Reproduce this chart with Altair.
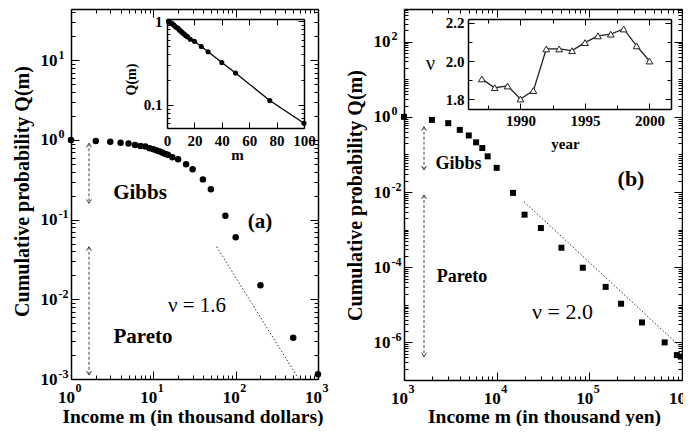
import json
import altair as alt
import pandas as pd

FONT = "Liberation Serif"
W, H = 675, 418

# ---------------- data ----------------
# (a) income distribution, thousand dollars
A_M = [1, 2, 3, 4, 5, 6, 7, 8, 9, 10, 11, 12, 13, 14, 15, 17, 20, 25, 30, 40, 50, 75, 100, 200, 500, 1000]
A_Q = [1.0, 0.97, 0.952, 0.925, 0.90, 0.866, 0.841, 0.825, 0.787, 0.765, 0.735, 0.714, 0.69, 0.668,
       0.65, 0.608, 0.574, 0.497, 0.43, 0.32, 0.24, 0.112, 0.06, 0.015, 0.0033, 0.00115]
# (b) income distribution, thousand yen
B_M = [1000, 2000, 3000, 4000, 5000, 6000, 7000, 8000, 10000, 15000, 20000, 30000, 50000, 85000,
       150000, 220000, 370000, 650000, 880000, 970000]
B_Q = [1.0, 0.83, 0.68, 0.45, 0.32, 0.21, 0.148, 0.089, 0.044, 0.0095, 0.0025, 0.0011, 3.3e-4, 9.7e-5,
       3.0e-5, 1.07e-5, 3.4e-6, 1.0e-6, 4.6e-7, 4.2e-7]
# inset (b): Pareto index per year
YEARS = [1987, 1988, 1989, 1990, 1991, 1992, 1993, 1994, 1995, 1996, 1997, 1998, 1999, 2000]
NU = [1.907, 1.861, 1.870, 1.802, 1.846, 2.063, 2.063, 2.054, 2.096, 2.131, 2.140, 2.167, 2.079, 2.000]

# power-law guide lines (end points)
A_FIT_M = [58.8, 576.6]
A_FIT_Q = [0.0457, 0.00102]
B_FIT_M = [19720, 1000000]
B_FIT_Q = [0.00553, 6.97e-7]

# region arrows (Gibbs, Pareto)
A_ARR_M = [1.654, 1.654]
A_ARR_TOP = [0.908, 0.0457]
A_ARR_BOT = [0.160, 0.00112]
B_ARR_M = [1644, 1644]
B_ARR_TOP = [0.547, 0.00834]
B_ARR_BOT = [0.0386, 4.17e-7]

# annotations
A_BOLD_TXT = ["Gibbs", "Pareto", "(a)"]
A_BOLD_M = [6.89, 7.49, 197.5]
A_BOLD_Q = [0.219, 0.00337, 0.0934]
A_NU_TXT = ["ν = 1.6"]
A_NU_M = [33.9]
A_NU_Q = [0.00824]
B_BOLD_TXT = ["Gibbs", "Pareto"]
B_BOLD_M = [3873, 4227]
B_BOLD_Q = [0.055, 5.5e-5]
B_TAG_TXT = ["(b)"]
B_TAG_M = [281600]
B_TAG_Q = [0.0222]
B_NU_TXT = ["ν = 2.0"]
B_NU_M = [51330]
B_NU_Q = [6.25e-6]

# tick values and labels
A_X_TICKS = [1, 10, 100, 1000]
A_X_EXP = ["0", "1", "2", "3"]
A_Y_TICKS = [0.001, 0.01, 0.1, 1, 10]
A_Y_EXP = ["-3", "-2", "-1", "0", "1"]
B_X_TICKS = [1e3, 1e4, 1e5, 1e6]
B_X_EXP = ["3", "4", "5", "6"]
B_Y_TICKS = [1e-6, 1e-4, 1e-2, 1, 100]
B_Y_EXP = ["-6", "-4", "-2", "0", "2"]
IA_X_TICKS = [0, 20, 40, 60, 80, 100]
IA_X_LAB = ["0", "20", "40", "60", "80", "100"]
IA_Y_TICKS = [0.1, 1]
IA_Y_LAB = ["0.1", "1"]
IA_Y_MINOR = [0.06, 0.07, 0.08, 0.09, 0.2, 0.3, 0.4, 0.5, 0.6, 0.7, 0.8, 0.9]
IB_X_TICKS = [1990, 1995, 2000]
IB_X_LAB = ["1990", "1995", "2000"]
IB_X_MINOR = [1987.5, 1992.5, 1997.5]
IB_Y_TICKS = [1.8, 2.0, 2.2]
IB_Y_LAB = ["1.8", "2.0", "2.2"]
IB_Y_MINOR = [1.9, 2.1]


def log_minor(lo, hi, vmin, vmax, extra=()):
    vals = [k * 10.0 ** e for e in range(lo, hi) for k in range(2, 10)] + list(extra)
    return [v for v in vals if vmin < v < vmax]


A_X_MINOR = log_minor(0, 3, 1, 1000)
A_Y_MINOR = log_minor(-3, 2, 0.001, 44)
B_X_MINOR = log_minor(3, 6, 1e3, 1e6)
B_Y_MINOR = log_minor(-7, 3, 1e-7, 740, extra=[1e-5, 1e-3, 1e-1, 10])

# ---------------- scales (pixel ranges inside the canvas) ----------------
sa_x = alt.Scale(type="log", domain=[1, 1000], range=[63, 310], nice=False)
sa_y = alt.Scale(type="log", domain=[1e-3, 44], range=[371, 1], nice=False)
sb_x = alt.Scale(type="log", domain=[1e3, 1e6], range=[396, 674], nice=False)
sb_y = alt.Scale(type="log", domain=[1e-7, 740], range=[372, 1], nice=False)
sia_x = alt.Scale(type="linear", domain=[0, 100], range=[159, 296], nice=False, zero=False)
sia_y = alt.Scale(type="log", domain=[0.0526, 1.063], range=[120, 11], nice=False)
sib_x = alt.Scale(type="linear", domain=[1985.93, 2001.67], range=[460, 663], nice=False, zero=False)
sib_y = alt.Scale(type="linear", domain=[1.750, 2.219], range=[101, 11], nice=False, zero=False)


def lab_expr(ticks, labels):
    return json.dumps(labels) + "[indexof(" + json.dumps(ticks) + ", datum.value)]"


COMMON = dict(grid=False, labelFont=FONT, labelFontWeight="bold", labelColor="black",
              labelFlush=False, labelOverlap=False, titleFont=FONT, titleFontWeight="bold",
              titleColor="black", domainColor="black", tickColor="black")


def label_axis(orient, offset, values, expr, size, pad, align, baseline, shift=0, domain=True, **kw):
    d = dict(COMMON)
    d.update(orient=orient, offset=offset, values=values, labelExpr=expr, labelFontSize=size,
             labelPadding=pad, labelAlign=align, labelBaseline=baseline, labelOffset=shift,
             ticks=False, tickSize=0, domain=domain, domainWidth=1.5)
    if "title" not in kw:
        kw["title"] = None
    else:
        kw.setdefault("titleFontSize", 20)
        kw.setdefault("titleBaseline", "middle")
        kw.setdefault("titleAlign", "center")
    d.update(kw)
    return alt.Axis(**d)


def tick_axis(orient, offset, size, values):
    d = dict(COMMON)
    d.update(orient=orient, offset=offset, values=values, labels=False, domain=False,
             ticks=True, tickSize=size, tickWidth=1, title=None)
    return alt.Axis(**d)


def frame_axis(orient, offset):
    d = dict(COMMON)
    d.update(orient=orient, offset=offset, labels=False, ticks=False, domain=True,
             domainWidth=1.5, title=None)
    return alt.Axis(**d)


def place(chart, xs, ys, xaxis=None, yaxis=None, xf="m", yf="q", **extra):
    return chart.encode(x=alt.X(f"{xf}:Q", scale=xs, axis=xaxis),
                        y=alt.Y(f"{yf}:Q", scale=ys, axis=yaxis), **extra)


def carrier(df):
    return alt.Chart(df).mark_point(opacity=0)


UP = "M-1,1.6L0,0L1,1.6"
DOWN = "M-1,-1.6L0,0L1,-1.6"


def arrows(m, top, bot, xs, ys):
    df = pd.DataFrame({"m": m, "q": top, "q2": bot})
    rule = place(alt.Chart(df).mark_rule(color="#444", strokeWidth=1, strokeDash=[3, 2]),
                 xs, ys, y2=alt.Y2("q2:Q"))
    up = place(alt.Chart(pd.DataFrame({"m": m, "q": top})).mark_point(
        shape=UP, size=25, filled=False, color="#444", strokeWidth=1, opacity=1), xs, ys)
    dn = place(alt.Chart(pd.DataFrame({"m": m, "q": bot})).mark_point(
        shape=DOWN, size=25, filled=False, color="#444", strokeWidth=1, opacity=1), xs, ys)
    return [rule, up, dn]


def notes(txt, m, q, xs, ys, size, weight):
    df = pd.DataFrame({"m": m, "q": q, "t": txt})
    return place(alt.Chart(df).mark_text(font=FONT, fontSize=size, fontWeight=weight, color="black",
                                         align="center", baseline="middle"), xs, ys, text="t:N")


def fit_line(m, q, xs, ys):
    df = pd.DataFrame({"m": m, "q": q})
    return place(alt.Chart(df).mark_line(color="#333", strokeWidth=1, strokeDash=[1.5, 2]), xs, ys)


layers = []

# ---------------- panel (a) ----------------
dfa = pd.DataFrame({"m": A_M, "q": A_Q})
layers.append(place(alt.Chart(dfa).mark_circle(size=42, color="black", opacity=1), sa_x, sa_y,
    label_axis("bottom", -47, A_X_TICKS, "'10'", 17, 10, "center", "top", shift=-5,
               title="Income m (in thousand dollars)", titleX=184.5, titleY=37.5, titleFontSize=19.5),
    label_axis("left", -63, A_Y_TICKS, "'10'", 17, 14, "right", "middle",
               title="Cumulative probability Q(m)", titleX=-49, titleY=183)))
layers.append(place(carrier(dfa), sa_x, sa_y,
    label_axis("bottom", -47, A_X_TICKS, lab_expr(A_X_TICKS, A_X_EXP), 12, 3, "left", "top", shift=4, domain=False),
    label_axis("left", -63, A_Y_TICKS, lab_expr(A_Y_TICKS, A_Y_EXP), 12, 13, "left", "middle", shift=-6, domain=False)))
layers.append(place(carrier(dfa), sa_x, sa_y, tick_axis("bottom", -55, 8, A_X_TICKS), tick_axis("left", -71, 8, A_Y_TICKS)))
layers.append(place(carrier(dfa), sa_x, sa_y, tick_axis("bottom", -51, 4, A_X_MINOR), tick_axis("left", -67, 4, A_Y_MINOR)))
layers.append(place(carrier(dfa), sa_x, sa_y, tick_axis("top", -9, 8, A_X_TICKS), tick_axis("right", -373, 8, A_Y_TICKS)))
layers.append(place(carrier(dfa), sa_x, sa_y, tick_axis("top", -5, 4, A_X_MINOR), tick_axis("right", -369, 4, A_Y_MINOR)))
layers.append(place(carrier(dfa), sa_x, sa_y, frame_axis("top", -1), frame_axis("right", -365)))
layers.append(fit_line(A_FIT_M, A_FIT_Q, sa_x, sa_y))
layers += arrows(A_ARR_M, A_ARR_TOP, A_ARR_BOT, sa_x, sa_y)
layers.append(notes(A_BOLD_TXT, A_BOLD_M, A_BOLD_Q, sa_x, sa_y, 21, "bold"))
layers.append(notes(A_NU_TXT, A_NU_M, A_NU_Q, sa_x, sa_y, 21, "normal"))

# ---------------- inset (a) ----------------
dfia = dfa[dfa["m"] <= 100]
layers.append(place(alt.Chart(dfia).mark_line(color="black", strokeWidth=1.3), sia_x, sia_y,
    label_axis("bottom", -298, IA_X_TICKS, lab_expr(IA_X_TICKS, IA_X_LAB), 15, 5, "center", "top",
               title="m", titleX=229, titleY=26, titleFontSize=15),
    label_axis("left", -159, IA_Y_TICKS, lab_expr(IA_Y_TICKS, IA_Y_LAB), 15, 5, "right", "middle",
               title="Q(m)", titleX=-35.7, titleY=71, titleFontSize=14)))
layers.append(place(alt.Chart(dfia).mark_circle(size=26, color="black", opacity=1), sia_x, sia_y,
    tick_axis("bottom", -304, 6, IA_X_TICKS), tick_axis("left", -165, 6, IA_Y_TICKS)))
layers.append(place(carrier(dfia), sia_x, sia_y, tick_axis("top", -17, 6, IA_X_TICKS), tick_axis("left", -162, 3, IA_Y_MINOR)))
layers.append(place(carrier(dfia), sia_x, sia_y, frame_axis("top", -11), tick_axis("right", -385, 6, IA_Y_TICKS)))
layers.append(place(carrier(dfia), sia_x, sia_y, None, tick_axis("right", -382, 3, IA_Y_MINOR)))
layers.append(place(carrier(dfia), sia_x, sia_y, None, frame_axis("right", -379)))

# ---------------- panel (b) ----------------
dfb = pd.DataFrame({"m": B_M, "q": B_Q})
layers.append(place(alt.Chart(dfb).mark_square(size=36, color="black", opacity=1), sb_x, sb_y,
    label_axis("bottom", -46, B_X_TICKS, "'10'", 17, 10, "center", "top", shift=-5,
               title="Income m (in thousand yen)", titleX=536, titleY=36.5, titleFontSize=19.5),
    label_axis("left", -396, B_Y_TICKS, "'10'", 17, 14, "right", "middle",
               title="Cumulative probability Q(m)", titleX=-48.5, titleY=187)))
layers.append(place(carrier(dfb), sb_x, sb_y,
    label_axis("bottom", -46, B_X_TICKS, lab_expr(B_X_TICKS, B_X_EXP), 12, 3, "left", "top", shift=4, domain=False),
    label_axis("left", -396, B_Y_TICKS, lab_expr(B_Y_TICKS, B_Y_EXP), 12, 13, "left", "middle", shift=-6, domain=False)))
layers.append(place(carrier(dfb), sb_x, sb_y, tick_axis("bottom", -54, 8, B_X_TICKS), tick_axis("left", -404, 8, B_Y_TICKS)))
layers.append(place(carrier(dfb), sb_x, sb_y, tick_axis("bottom", -50, 4, B_X_MINOR), tick_axis("left", -400, 4, B_Y_MINOR)))
layers.append(place(carrier(dfb), sb_x, sb_y, tick_axis("top", -9, 8, B_X_TICKS), tick_axis("right", -9, 8, B_Y_TICKS)))
layers.append(place(carrier(dfb), sb_x, sb_y, tick_axis("top", -5, 4, B_X_MINOR), tick_axis("right", -5, 4, B_Y_MINOR)))
layers.append(place(carrier(dfb), sb_x, sb_y, frame_axis("top", -1), frame_axis("right", -1)))
layers.append(fit_line(B_FIT_M, B_FIT_Q, sb_x, sb_y))
layers += arrows(B_ARR_M, B_ARR_TOP, B_ARR_BOT, sb_x, sb_y)
layers.append(notes(B_BOLD_TXT, B_BOLD_M, B_BOLD_Q, sb_x, sb_y, 18, "bold"))
layers.append(notes(B_TAG_TXT, B_TAG_M, B_TAG_Q, sb_x, sb_y, 22, "bold"))
layers.append(notes(B_NU_TXT, B_NU_M, B_NU_Q, sb_x, sb_y, 22, "normal"))

# ---------------- inset (b) ----------------
dfib = pd.DataFrame({"year": YEARS, "nu": NU})
layers.append(place(alt.Chart(dfib).mark_line(color="#222", strokeWidth=1.3), sib_x, sib_y,
    label_axis("bottom", -317, IB_X_TICKS, lab_expr(IB_X_TICKS, IB_X_LAB), 15, 4, "center", "top",
               title="year", titleX=557, titleY=34, titleFontSize=15),
    label_axis("left", -460, IB_Y_TICKS, lab_expr(IB_Y_TICKS, IB_Y_LAB), 15, 4, "right", "middle",
               title="ν", titleX=-38, titleY=55, titleAngle=0, titleFontSize=20, titleFontWeight="normal"),
    xf="year", yf="nu"))
layers.append(place(alt.Chart(dfib).mark_point(shape="triangle-up", size=45, filled=True, fill="white",
                                               stroke="#222", strokeWidth=1, opacity=1), sib_x, sib_y,
    tick_axis("bottom", -323, 6, IB_X_TICKS), tick_axis("left", -466, 6, IB_Y_TICKS), xf="year", yf="nu"))
layers.append(place(carrier(dfib), sib_x, sib_y, tick_axis("bottom", -321, 4, IB_X_MINOR),
                    tick_axis("left", -464, 4, IB_Y_MINOR), xf="year", yf="nu"))
layers.append(place(carrier(dfib), sib_x, sib_y, tick_axis("top", -17, 6, IB_X_TICKS),
                    tick_axis("right", -18, 6, IB_Y_TICKS), xf="year", yf="nu"))
layers.append(place(carrier(dfib), sib_x, sib_y, tick_axis("top", -15, 4, IB_X_MINOR),
                    tick_axis("right", -16, 4, IB_Y_MINOR), xf="year", yf="nu"))
layers.append(place(carrier(dfib), sib_x, sib_y, frame_axis("top", -11), frame_axis("right", -12),
                    xf="year", yf="nu"))

chart = (alt.layer(*layers)
         .resolve_scale(x="independent", y="independent")
         .properties(width=W, height=H, autosize=alt.AutoSizeParams(type="none"), padding=0)
         .configure_view(stroke=None))

chart.save("out.html", embed_options={"renderer": "svg", "actions": False})
